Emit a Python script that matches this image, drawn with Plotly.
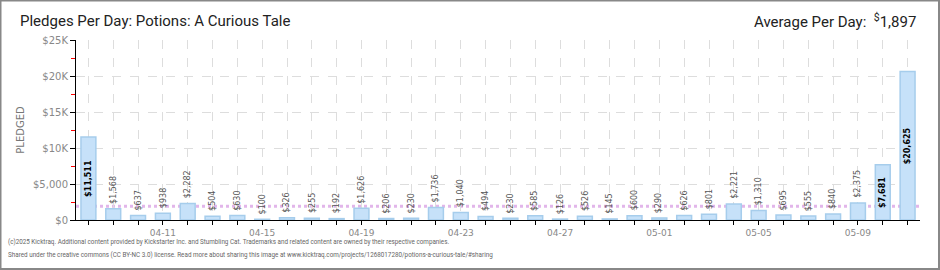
import plotly.graph_objects as go

dates = ["04-08","04-09","04-10","04-11","04-12","04-13","04-14","04-15","04-16","04-17",
         "04-18","04-19","04-20","04-21","04-22","04-23","04-24","04-25","04-26","04-27",
         "04-28","04-29","04-30","05-01","05-02","05-03","05-04","05-05","05-06","05-07",
         "05-08","05-09","05-10","05-11"]
pledged = [11511,1568,637,938,2282,504,630,100,326,255,
           192,1626,206,230,1736,1040,494,230,585,126,
           526,145,600,290,626,801,2221,1310,695,555,
           840,2375,7681,20625]
label_dates = ["04-11","04-15","04-19","04-23","04-27","05-01","05-05","05-09"]
y_ticks = [0,5000,10000,15000,20000,25000]
y_ticktext = ["$0","$5,000","$10K","$15K","$20K","$25K"]
average = 1897

W, H = 940, 270
ML, MR, MT, MB = 76, 20, 40, 50
PW, PH = W - ML - MR, H - MT - MB

fig = go.Figure()
fig.add_trace(go.Bar(
    x=dates, y=pledged, width=0.6,
    marker=dict(color="#c6e1f9", line=dict(color="#a6cdec", width=1.5)),
    hoverinfo="skip",
))

annotations = []
for d, v in zip(dates, pledged):
    txt = "$" + format(v, ",")
    if v > 5000:
        annotations.append(dict(x=d, y=v / 2, xref="x", yref="y", text="<b>" + txt + "</b>",
                                textangle=-90, showarrow=False, xanchor="center", yanchor="middle",
                                font=dict(family="DejaVu Sans", size=8, color="#000000")))
    else:
        annotations.append(dict(x=d, y=v, xref="x", yref="y", text=txt,
                                textangle=-90, showarrow=False, xanchor="center", yanchor="bottom",
                                yshift=3, font=dict(family="DejaVu Sans", size=8, color="#555555")))

fig.add_shape(type="line", xref="paper", yref="y", x0=0, x1=1, y0=average, y1=average,
              line=dict(color="#e2b6ea", width=3, dash="dot"), layer="below")

# outer border
fig.add_shape(type="rect", xref="paper", yref="paper",
              x0=-ML/PW + 0.5/PW, x1=1 + MR/PW - 1/PW,
              y0=-MB/PH + 1/PH, y1=1 + MT/PH - 0.5/PH,
              line=dict(color="#888888", width=2), fillcolor="rgba(0,0,0,0)")

annotations += [
    dict(text="Pledges Per Day: Potions: A Curious Tale", xref="paper", yref="paper",
         x=-58/PW, y=1 + 19/PH, xanchor="left", yanchor="middle", showarrow=False,
         font=dict(family="Liberation Sans Narrow, Roboto", size=15, color="#222222")),
    dict(text="Average Per Day:  <sup>$</sup>1,897", xref="paper", yref="paper",
         x=1 - 2/PW, y=1 + 19/PH, xanchor="right", yanchor="middle", showarrow=False,
         font=dict(family="Liberation Sans Narrow, Roboto", size=15, color="#222222")),
    dict(text="(c)2025 Kicktraq. Additional content provided by Kickstarter Inc. and Stumbling Cat. Trademarks and related content are owned by their respective companies.",
         xref="paper", yref="paper", x=-70/PW, y=-22/PH, xanchor="left", yanchor="middle",
         showarrow=False, font=dict(family="Liberation Sans Narrow, Roboto", size=6.3, color="#666666")),
    dict(text="Shared under the creative commons (CC BY-NC 3.0) license. Read more about sharing this image at www.kicktraq.com/projects/1268017280/potions-a-curious-tale/#sharing",
         xref="paper", yref="paper", x=-70/PW, y=-35/PH, xanchor="left", yanchor="middle",
         showarrow=False, font=dict(family="Liberation Sans Narrow, Roboto", size=6.3, color="#666666")),
]

fig.update_layout(
    width=W, height=H, margin=dict(l=ML, r=MR, t=MT, b=MB),
    paper_bgcolor="white", plot_bgcolor="white",
    showlegend=False, bargap=0.4,
    font=dict(family="DejaVu Sans", color="#888888"),
    xaxis=dict(
        type="category", range=[-0.5, len(dates) - 0.5],
        tickvals=dates,
        ticktext=[d if d in label_dates else "" for d in dates],
        ticks="outside", ticklen=4, tickcolor="#000000",
        showline=True, linecolor="#000000", linewidth=1,
        showgrid=True, gridcolor="#dddddd", griddash="dash", gridwidth=1,
        tickfont=dict(family="DejaVu Sans", size=9, color="#888888"),
    ),
    yaxis=dict(
        range=[0, 25000], tickvals=y_ticks, ticktext=y_ticktext,
        ticks="outside", ticklen=5, tickcolor="#000000",
        showline=True, linecolor="#000000", linewidth=1,
        showgrid=True, gridcolor="#dddddd", griddash="dash", gridwidth=1,
        zeroline=False,
        tickfont=dict(family="DejaVu Sans", size=10, color="#888888"),
        minor=dict(dtick=2500, ticks="outside", ticklen=4, tickcolor="#ff0000", showgrid=False),
        title=dict(text="PLEDGED", font=dict(size=10, color="#777777"), standoff=6),
    ),
    annotations=annotations,
)

fig.write_html("out.html")
